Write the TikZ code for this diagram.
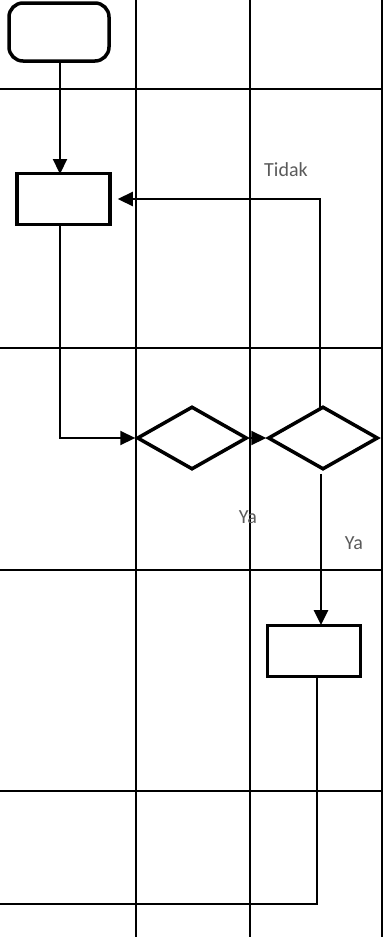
\documentclass[tikz,border=0pt]{standalone}
\usepackage{fontspec}
\setmainfont{Carlito}
\usetikzlibrary{arrows.meta,shapes.geometric}
\definecolor{lbl}{HTML}{5A5A5A}
\tikzset{
  grid/.style={line width=1.3pt,black},
  flow/.style={line width=2.2pt,black},
  arr/.style={flow,-{Triangle[length=15pt,width=14pt]}},
  term/.style={draw,line width=3.5pt,rounded corners=14pt,minimum width=100pt,minimum height=58pt,inner sep=0pt},
  proc/.style={draw,line width=3.5pt,minimum width=93pt,minimum height=51pt,inner sep=0pt},
  dec/.style={draw,diamond,line width=3.5pt,minimum width=110pt,minimum height=63pt,inner sep=0pt},
  lab/.style={text=lbl,font=\fontsize{20}{22}\selectfont,inner sep=0pt}
}
\begin{document}
\begin{tikzpicture}[x=1pt,y=-1pt]
\useasboundingbox (0,0) rectangle (383,937);
% swimlane grid
\foreach \xx in {136,250,382} \draw[grid] (\xx,0) -- (\xx,937);
\foreach \yy in {89,348,570,791} \draw[grid] (0,\yy) -- (382,\yy);
% shapes
\node[term] (start) at (59,32) {};
\node[proc] (p1) at (63.5,199) {};
\node[dec] (d1) at (192,438) {};
\node[dec] (d2) at (323,438) {};
\node[proc] (p2) at (314,651) {};
\coordinate (endpt) at (0,904);
% connectors
\draw[arr] (start.south -| 60,0) -- (60,174);
\draw[arr] (60,224) |- (d1.west);
\draw[arr] (d1.east) -- (d2.west);
\draw[arr,shorten >=6pt] (320,408) |- (p1.east);
\draw[arr,line width=2.8pt] (321,474) -- (321,625);
\draw[flow] (317,677) |- (endpt);
% labels
\node[lab] at (286,170) {Tidak};
\node[lab] at (248,517) {Ya};
\node[lab] at (354,543) {Ya};
\end{tikzpicture}
\end{document}
